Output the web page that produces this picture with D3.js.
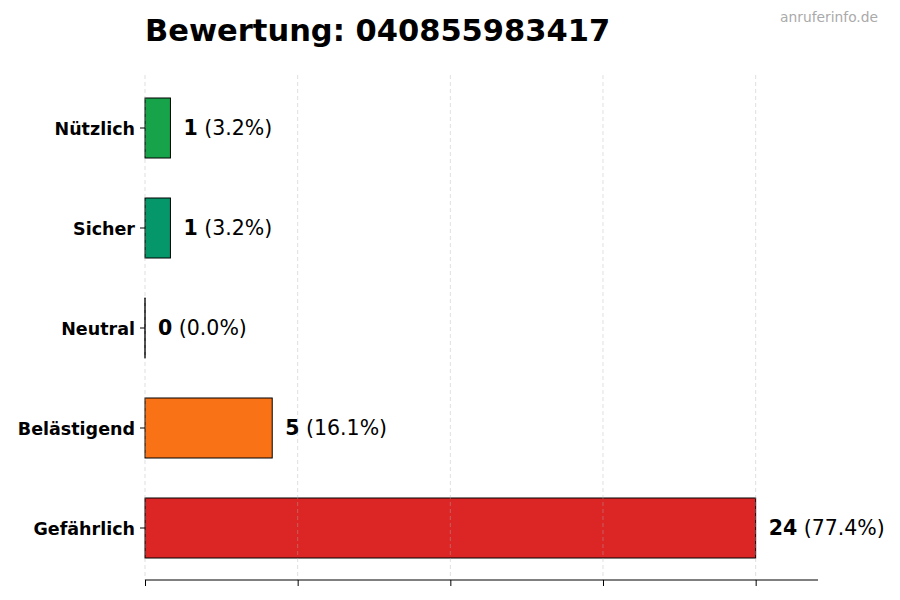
<!DOCTYPE html>
<html><head><meta charset="utf-8">
<script src="https://cdn.jsdelivr.net/npm/d3@7"></script>
<style>body{margin:0;background:#fff}</style></head>
<body><svg id="c" width="900" height="600"></svg>
<script>
const categories = ["Nützlich","Sicher","Neutral","Belästigend","Gefährlich"];
const counts = [1,1,0,5,24];
const percents = ["3.2%","3.2%","0.0%","16.1%","77.4%"];
const colors = ["#16a34a","#059669","#9ca3af","#f97316","#dc2626"];
const xTicks = [0,6,12,18,24];

const svg = d3.select("#c");
const font = "DejaVu Sans, sans-serif";
const x = d3.scaleLinear().domain([0,26.45]).range([145,818]);
const y = d3.scaleBand().domain(categories).range([78,578]).paddingInner(0.4).paddingOuter(0.2);

svg.append("g").selectAll("rect").data(categories).join("rect")
  .attr("x",x(0)).attr("y",d=>y(d)).attr("height",y.bandwidth())
  .attr("width",(d,i)=>Math.max(0.01,x(counts[i])-x(0)))
  .attr("fill",(d,i)=>colors[i]).attr("stroke","#000").attr("stroke-width",1);
svg.append("g").selectAll("line").data(categories.filter((d,i)=>counts[i]===0)).join("line")
  .attr("x1",x(0)).attr("x2",x(0)).attr("y1",d=>y(d)).attr("y2",d=>y(d)+y.bandwidth())
  .attr("stroke","#000").attr("stroke-width",1);

svg.append("g").selectAll("line").data(xTicks).join("line")
  .attr("x1",d=>x(d)).attr("x2",d=>x(d)).attr("y1",75).attr("y2",580)
  .attr("stroke","#b0b0b0").attr("stroke-opacity",0.5).attr("stroke-dasharray","4,3").attr("stroke-width",0.8);

const lbl = svg.append("g").selectAll("text").data(categories).join("text")
  .attr("x",(d,i)=>x(counts[i])+13).attr("y",d=>y(d)+y.bandwidth()/2)
  .attr("dominant-baseline","central").attr("font-family",font).attr("font-size",20.5);
lbl.append("tspan").attr("font-weight","bold").text((d,i)=>counts[i]);
lbl.append("tspan").text((d,i)=>" ("+percents[i]+")");

const ax = svg.append("g").attr("transform","translate(0,580)")
  .call(d3.axisBottom(x).tickValues(xTicks).tickFormat("").tickSize(6).tickSizeOuter(0));
ax.select(".domain").attr("d","M145,0H818");

const ay = svg.append("g").attr("transform","translate(145,0)")
  .call(d3.axisLeft(y).tickSize(5).tickPadding(5));
ay.select(".domain").remove();
ay.selectAll("text").attr("font-family",font).attr("font-size",17.5).attr("font-weight","bold").attr("fill","#000").attr("dy","0.38em");

svg.append("text").attr("x",145).attr("y",41).attr("font-family",font)
  .attr("font-size",30.5).attr("font-weight","bold").text("Bewertung: 040855983417");
svg.append("text").attr("x",878).attr("y",22).attr("text-anchor","end").attr("font-family",font)
  .attr("font-size",13.8).attr("fill","#aaa").text("anruferinfo.de");
</script></body></html>
